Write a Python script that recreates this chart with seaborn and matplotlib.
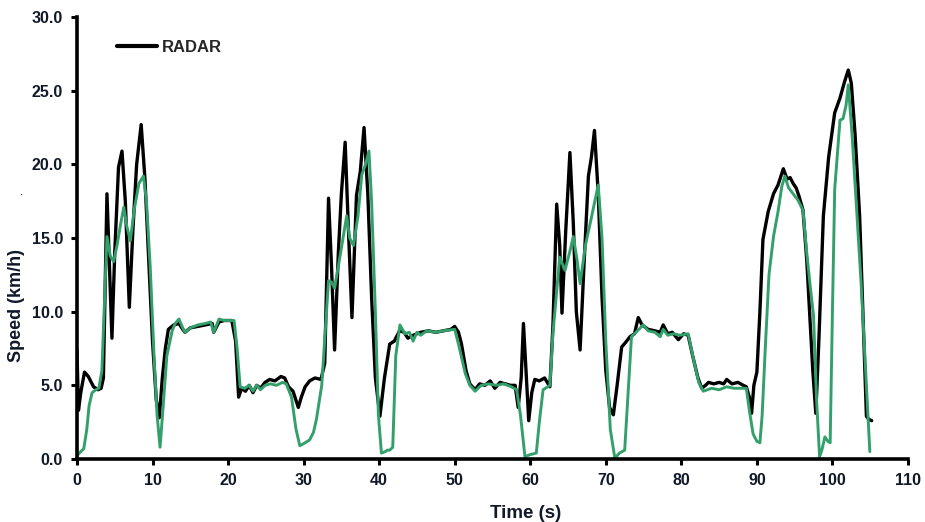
import matplotlib
matplotlib.use("Agg")
import matplotlib.pyplot as plt
import seaborn as sns
import pandas as pd
from matplotlib.lines import Line2D
from matplotlib.ticker import FormatStrFormatter

# ---------------- data ----------------
radar_time = [
    0, 0.2, 0.5, 1.0, 1.5, 2.2, 2.8, 3.2, 3.5, 3.97,
    4.3, 4.63, 5.0, 5.5, 5.96, 6.4, 6.93, 7.4, 7.9, 8.5,
    9.0, 9.5, 10.0, 10.5, 10.9, 11.3, 11.7, 12.1, 12.8, 13.5,
    14.0, 14.3, 15.0, 16.0, 17.0, 17.9, 18.1, 18.8, 19.5, 20.5,
    21.0, 21.4, 21.8, 22.3, 22.8, 23.3, 23.8, 24.3, 24.9, 25.5,
    26.2, 27.0, 27.5, 28.0, 28.6, 29.3, 29.7, 30.2, 30.8, 31.5,
    32.3, 32.8, 33.3, 33.7, 34.1, 34.6, 35.0, 35.5, 35.9, 36.4,
    37.0, 37.5, 38.0, 38.5, 39.0, 39.5, 40.1, 40.7, 41.4, 42.0,
    42.7, 43.3, 43.8, 44.5, 45.5, 46.5, 47.5, 48.5, 49.5, 50.0,
    50.5, 50.9, 51.5, 52.0, 52.7, 53.3, 54.0, 54.7, 55.3, 56.0,
    56.7, 57.4, 58.0, 58.4, 58.8, 59.1, 59.5, 59.8, 60.2, 60.6,
    61.2, 61.9, 62.6, 63.0, 63.5, 63.9, 64.2, 64.7, 65.25, 65.7,
    66.1, 66.6, 67.1, 67.7, 68.1, 68.5, 69.0, 69.5, 70.0, 70.5,
    71.0, 71.5, 72.1, 72.6, 73.2, 73.8, 74.3, 74.8, 75.6, 76.5,
    77.2, 77.6, 78.2, 78.8, 79.6, 80.3, 80.9, 81.5, 82.2, 82.7,
    83.2, 83.6, 84.3, 85.0, 85.6, 86.0, 86.7, 87.5, 88.2, 88.6,
    89.0, 89.3, 89.6, 90.0, 90.4, 90.8, 91.5, 92.2, 92.8, 93.5,
    94.0, 94.4, 94.8, 95.2, 95.6, 96.1, 96.6, 97.0, 97.4, 97.8,
    98.2, 98.8, 99.5, 100.3, 101.0, 101.6, 102.1, 102.5, 103.0, 103.6,
    104.1, 104.5, 104.8, 105.2,
]
radar_speed = [
    7.4, 3.3, 4.5, 5.9, 5.6, 4.9, 4.7, 4.8, 5.5, 18.0,
    13.0, 8.2, 14.0, 19.8, 20.9, 17.5, 10.3, 15.5, 20.0, 22.7,
    19.0, 13.5, 8.0, 4.0, 2.8, 5.5, 7.5, 8.8, 9.1, 9.2,
    8.8, 8.6, 8.9, 9.0, 9.1, 9.2, 8.6, 9.3, 9.4, 9.4,
    8.0, 4.2, 4.8, 4.6, 5.0, 4.5, 5.0, 4.8, 5.2, 5.4,
    5.3, 5.6, 5.5, 4.9, 4.6, 3.5, 4.2, 4.9, 5.3, 5.5,
    5.4, 6.5, 17.7, 13.0, 7.4, 14.0, 18.0, 21.5, 16.0, 9.6,
    17.9, 19.5, 22.5, 18.0, 11.0, 5.5, 2.9, 5.5, 7.8, 8.0,
    8.7, 8.6, 8.2, 8.4, 8.6, 8.7, 8.6, 8.7, 8.8, 9.0,
    8.6, 7.8, 6.0, 5.1, 4.7, 5.1, 5.0, 5.3, 4.8, 5.2,
    5.1, 5.0, 5.0, 3.5, 5.5, 9.2, 5.5, 2.6, 4.5, 5.4,
    5.3, 5.5, 4.9, 9.0, 17.3, 14.5, 9.9, 15.5, 20.8, 16.0,
    10.0, 7.4, 13.0, 19.2, 20.5, 22.3, 18.0, 11.0, 6.0, 3.5,
    3.0, 5.0, 7.6, 7.9, 8.3, 8.5, 9.6, 9.1, 8.8, 8.7,
    8.6, 9.1, 8.5, 8.6, 8.1, 8.5, 8.4, 7.0, 5.5, 4.8,
    5.0, 5.2, 5.1, 5.2, 5.1, 5.4, 5.1, 5.2, 5.0, 4.9,
    4.2, 3.1, 5.0, 5.9, 10.0, 14.9, 16.8, 18.0, 18.6, 19.7,
    19.0, 19.1, 18.7, 18.4, 17.8, 16.9, 13.5, 9.7, 6.0, 3.1,
    8.0, 16.5, 20.5, 23.5, 24.5, 25.6, 26.4, 25.5, 22.0, 16.5,
    9.0, 2.9, 2.7, 2.6,
]

second_time = [
    0, 0.3, 0.9, 1.3, 1.6, 2.0, 2.5, 2.9, 3.3, 3.97,
    4.4, 4.85, 5.3, 5.8, 6.2, 6.6, 7.06, 7.6, 8.2, 8.8,
    9.2, 9.7, 10.2, 10.6, 11.0, 11.4, 11.9, 12.6, 13.0, 13.5,
    14.0, 14.3, 15.0, 16.0, 17.0, 17.7, 18.1, 18.8, 19.5, 20.8,
    21.2, 21.6, 22.2, 22.8, 23.3, 23.8, 24.3, 24.9, 25.6, 26.4,
    27.2, 27.7, 28.4, 29.0, 29.5, 30.2, 30.8, 31.3, 31.7, 32.4,
    32.9, 33.3, 33.7, 34.1, 34.9, 35.7, 36.1, 36.6, 37.2, 37.7,
    38.2, 38.65, 39.0, 39.5, 39.9, 40.3, 40.8, 41.1, 41.4, 41.8,
    42.2, 42.75, 43.4, 44.0, 44.5, 45.0, 45.5, 46.3, 47.5, 48.5,
    50.0, 50.5, 51.4, 52.0, 52.7, 53.5, 54.5, 55.5, 56.5, 57.5,
    58.2, 58.7, 59.3, 60.0, 60.8, 61.2, 61.7, 62.6, 63.0, 63.9,
    64.6, 65.2, 65.7, 66.2, 66.6, 67.3, 68.1, 69.0, 69.5, 70.0,
    70.6, 71.2, 71.8, 72.5, 72.9, 73.4, 74.0, 74.95, 75.6, 76.5,
    77.2, 77.6, 78.2, 79.0, 79.8, 80.9, 81.6, 82.3, 82.9, 84.0,
    85.0, 86.0, 87.0, 88.0, 88.6, 89.0, 89.5, 90.0, 90.4, 90.7,
    91.1, 91.6, 92.2, 92.8, 93.3, 93.7, 94.2, 94.8, 95.4, 96.1,
    96.6, 97.0, 97.5, 97.9, 98.3, 98.6, 99.0, 99.4, 99.7, 100.0,
    100.3, 101.0, 101.4, 101.8, 102.1, 102.6, 103.2, 103.8, 104.4, 104.95,
]
second_speed = [
    0.2, 0.4, 0.7, 2.0, 3.6, 4.5, 4.7, 4.8, 6.0, 15.1,
    13.8, 13.4, 14.5, 16.0, 17.1, 15.8, 14.8, 17.0, 18.7, 19.2,
    17.5, 13.0, 7.0, 3.0, 0.8, 3.5, 7.0, 8.7, 9.2, 9.5,
    8.9, 8.6, 8.9, 9.1, 9.2, 9.3, 8.6, 9.5, 9.4, 9.4,
    7.5, 4.9, 4.8, 5.0, 4.6, 5.0, 4.7, 5.0, 5.1, 5.0,
    5.2, 5.1, 4.2, 2.0, 0.9, 1.1, 1.3, 1.8, 2.7, 5.0,
    9.0, 12.1, 12.0, 11.6, 14.0, 16.5, 15.0, 14.5, 16.5, 19.3,
    20.0, 20.9, 17.5, 10.0, 3.0, 0.4, 0.5, 0.6, 0.6, 0.8,
    7.0, 9.1, 8.5, 8.6, 8.0, 8.6, 8.4, 8.7, 8.6, 8.7,
    8.8, 7.8, 5.8, 5.0, 4.6, 5.0, 5.1, 5.0, 5.1, 4.9,
    4.7, 3.0, 0.16, 0.3, 0.4, 2.5, 4.7, 5.0, 8.5, 13.7,
    12.8, 14.0, 15.1, 13.5, 11.9, 14.5, 16.4, 18.6, 15.0, 8.0,
    2.0, 0.05, 0.4, 0.6, 4.0, 8.3, 8.6, 9.1, 8.7, 8.6,
    8.3, 8.8, 8.4, 8.5, 8.4, 8.5, 6.8, 5.2, 4.6, 4.8,
    4.7, 4.9, 4.8, 4.8, 4.8, 3.3, 1.7, 1.2, 1.1, 3.0,
    7.4, 12.5, 15.1, 16.8, 18.5, 19.2, 18.4, 18.0, 17.6, 16.9,
    14.0, 12.0, 9.7, 4.0, 0.16, 0.6, 1.5, 1.2, 1.1, 10.0,
    18.3, 23.0, 23.1, 24.0, 25.4, 22.0, 17.0, 11.9, 6.0, 0.5,
]

x_ticks = list(range(0, 111, 10))
y_ticks = [0, 5, 10, 15, 20, 25, 30]
legend_label = "RADAR"
x_label = "Time (s)"
y_label = "Speed (km/h)"

radar_df = pd.DataFrame({"Time": radar_time, "Speed": radar_speed})
second_df = pd.DataFrame({"Time": second_time, "Speed": second_speed})

# ---------------- styling ----------------
sns.set_style("ticks")
plt.rcParams["font.family"] = ["Liberation Sans", "DejaVu Sans"]

TXT = "#111827"
GREEN = "#33a06c"

fig = plt.figure(figsize=(9.25, 5.22), dpi=100)
ax = fig.add_axes([0.0832, 0.1207, 0.8984, 0.8467])

sns.lineplot(data=radar_df, x="Time", y="Speed", ax=ax, sort=False,
             estimator=None, color="black", linewidth=2.4, legend=False,
             solid_joinstyle="round", solid_capstyle="round")
sns.lineplot(data=second_df, x="Time", y="Speed", ax=ax, sort=False,
             estimator=None, color=GREEN, linewidth=2.1, legend=False,
             solid_joinstyle="round", solid_capstyle="round")

ax.set_xlim(0, 110)
ax.set_ylim(0, 30)
ax.set_xticks(x_ticks)
ax.set_yticks(y_ticks)
ax.yaxis.set_major_formatter(FormatStrFormatter("%.1f"))

sns.despine(ax=ax)
for s in ("left", "bottom"):
    ax.spines[s].set_linewidth(2.6)
    ax.spines[s].set_color("black")
ax.tick_params(axis="both", direction="out", length=4, width=2.2,
               color="black", labelsize=11.5, labelcolor=TXT, pad=6)
for lab in ax.get_xticklabels() + ax.get_yticklabels():
    lab.set_fontweight("bold")

ax.set_xlabel(x_label, fontsize=13.5, fontweight="bold", color=TXT)
ax.set_ylabel(y_label, fontsize=13, fontweight="bold", color=TXT)
ax.xaxis.set_label_coords(0.540, -0.104)
ax.yaxis.set_label_coords(-0.062, 0.348)

handle = Line2D([], [], color="black", linewidth=3)
ax.legend([handle], [legend_label], loc="center left",
          bbox_to_anchor=(0.048, 0.932), frameon=False, borderpad=0,
          borderaxespad=0, handlelength=2.4, handletextpad=0.3,
          prop={"size": 12, "weight": "bold"})

fig.text(20 / 925, 1 - 195 / 522, ".", fontsize=9, color=TXT)

fig.savefig("out.png", dpi=100)
